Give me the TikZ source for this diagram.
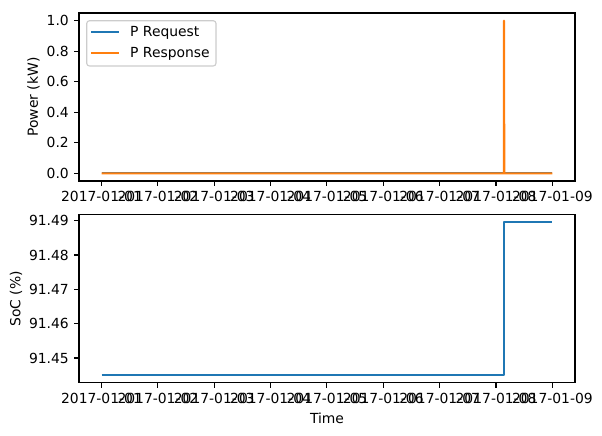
\documentclass[tikz,border=0pt]{standalone}
\usepackage{fontspec}
\setmainfont{DejaVu Sans}
\definecolor{tabblue}{HTML}{1F77B4}
\definecolor{taborange}{HTML}{FF7F0E}
\definecolor{legedge}{HTML}{CCCCCC}
\begin{document}
\begin{tikzpicture}[x=1pt,y=-1pt,
  spine/.style={line width=1.11pt},
  tickmark/.style={line width=1.11pt},
  dataline/.style={line width=2.08pt, line join=round},
  lbl/.style={inner sep=0pt, font=\fontsize{13.89}{16.67}\selectfont},
  legbox/.style={draw=legedge, fill=white, fill opacity=0.8, draw opacity=1, line width=1.11pt, rounded corners=2.8pt}]
\useasboundingbox (0,0) rectangle (602,436);
% ---------- top axes ----------
\draw[dataline, tabblue] (101.5,173.4) -- (552.4,173.4);
\draw[dataline, taborange] (101.5,173.4) -- (504,173.4) -- (504,20.6) -- (504.3,173.4) -- (552.4,173.4);
\draw[spine] (79,13) rectangle (575,181);
\foreach \k in {1,...,9} {
  \pgfmathsetmacro\xx{101.5+(\k-1)*56.36}
  \draw[tickmark] (\xx,181) -- ++(0,4.86);
  \node[lbl,anchor=north] (xa\k) at (\xx,191.4) {2017-01-0\k};
}
\foreach \v/\yy [count=\i] in {0.0/173.4,0.2/142.84,0.4/112.28,0.6/81.72,0.8/51.16,1.0/20.6} {
  \draw[tickmark] (79,\yy) -- ++(-4.86,0);
  \node[lbl,anchor=east] (ya\i) at (69,\yy) {\v};
}
\node[lbl,rotate=90] (ylabA) at (33.5,97) {Power (kW)};
% legend
\draw[legbox] (86.7,20.7) rectangle (216,66);
\coordinate (lr1) at (91,32);
\coordinate (lr2) at (119,32);
\coordinate (lp1) at (91,52.7);
\coordinate (lp2) at (119,52.7);
\draw[dataline, tabblue] (lr1) -- (lr2);
\draw[dataline, taborange] (lp1) -- (lp2);
\node[lbl,anchor=base west] (legA) at (130,36.5) {P Request};
\node[lbl,anchor=base west] (legB) at (130,57.2) {P Response};
% ---------- bottom axes ----------
\draw[dataline, tabblue] (101.5,375) -- (504,375) -- (504,222.3) -- (552.4,222.3);
\draw[spine] (79,214.6) rectangle (575,382.8);
\foreach \k in {1,...,9} {
  \pgfmathsetmacro\xx{101.5+(\k-1)*56.36}
  \draw[tickmark] (\xx,382.8) -- ++(0,4.86);
  \node[lbl,anchor=north] (xb\k) at (\xx,393.4) {2017-01-0\k};
}
\foreach \v/\yy [count=\i] in {91.45/358.0,91.46/323.67,91.47/289.34,91.48/255.01,91.49/220.68} {
  \draw[tickmark] (79,\yy) -- ++(-4.86,0);
  \node[lbl,anchor=east] (yb\i) at (69,\yy) {\v};
}
\node[lbl,rotate=90] (ylabB) at (16,298.7) {SoC (\%)};
\node[lbl,anchor=base] (xlab) at (327,423) {Time};
\end{tikzpicture}
\end{document}
